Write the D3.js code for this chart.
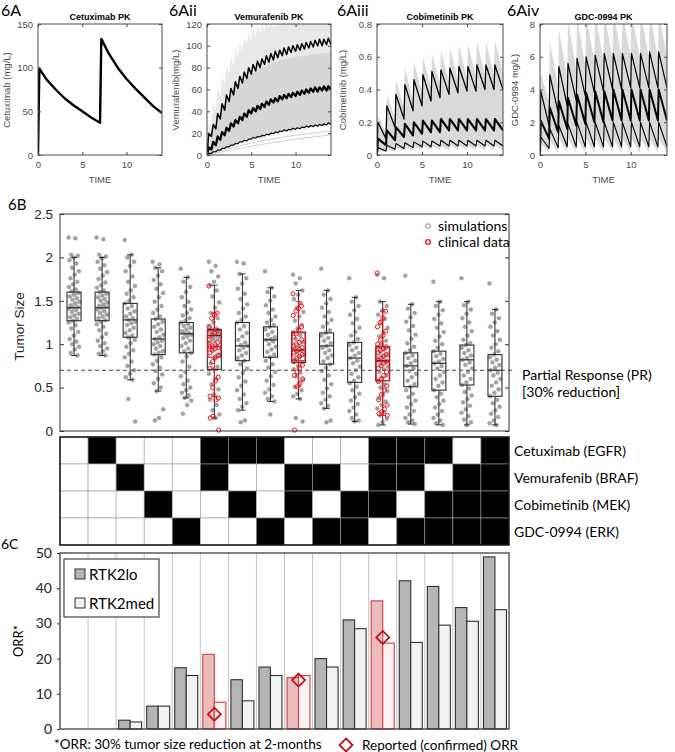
<!DOCTYPE html>
<html><head><meta charset="utf-8">
<script src="https://cdn.jsdelivr.net/npm/d3@7"></script>
<style>body{margin:0;background:#fff}svg{display:block}</style>
</head><body>
<svg id="chart" width="675" height="752"></svg>
<script>
// ================= DATA =================
// --- 6A PK panels
const cetuxT = [0, 0.15, 1, 2, 3, 4, 5, 6, 7, 7.15, 8, 9, 10, 11, 12, 13, 14];
const cetuxV = [0, 99, 86, 75, 65, 57, 50, 43, 37, 133, 116, 100, 87, 76, 66, 56, 48];

const vemDoseT = [0,0.5,1,1.5,2,2.5,3,3.5,4,4.5,5,5.5,6,6.5,7,7.5,8,8.5,9,9.5,10,10.5,11,11.5,12,12.5,13,13.5];
const vemHiTr = [0,17,24,33,41,49,55,61,66,70,74,77,80,83,85,87,89,91,92,94,95,96,97,98,99,100,100,101,101];
const vemHiPk = [20,28,38,47,55,61,67,72,76,80,83,86,88,91,93,95,96,98,99,100,101,102,103,104,105,106,106,107];
const vemMidTr = [0,5,9,14,18,22,26,29,32,35,38,40,42,44,46,48,49,51,52,53,54,55,56,57,58,58,59,59,60];
const vemMidPk = [7,12,17,21,25,29,32,35,38,41,43,45,47,49,51,52,54,55,56,57,58,59,60,61,62,62,63,63];
const vemLoTr = [0,1.5,3,4.5,6,7.5,9,10.5,12,13,14.5,15.5,16.5,17.5,18.5,19.5,20.5,21.5,22,23,23.5,24,25,25.5,26,26.5,27,27.5,28];
const vemLoPk = [1.5,3,4.5,6,7.5,9,10.5,12,13.5,14.5,16,17,18,19,20,21,22,23,23.5,24.5,25,25.5,26.5,27,27.5,28,28.5,29.5];
const vemGreyHiTr = [0,25,40,54,65,74,82,89,95,100,104,108,111,113,115,116,117,118,119,120,121,122,122,123,123,124,124,124,124];
const vemGreyHiPk = [32,48,62,73,82,90,97,103,108,112,116,119,122,124,125,126,127,128,129,130,130,131,131,132,132,132,133,133];
const dayT = [0,1,2,3,4,5,6,7,8,9,10,11,12,13,14];
const vemGreyDenseHi = [0,30,48,60,68,74,79,83,86,88,90,91,92,93,94];
const vemGreyLo = [0,3.5,7,10,13,15.5,17.5,19.5,21,22.5,24,25,26,27,28];
const vemGrey1 = [0,2.5,5,7,9,11,12.5,14,15.5,17,18,19,20,21,22];
const vemGrey2 = [0,1.8,3.5,5,6.5,8,9.5,10.8,12,13.3,14.5,15.5,16.5,17.5,18.5];

const dailyDoseT = [0,1,2,3,4,5,6,7,8,9,10,11,12,13];
const cobiHiPk = [0.20,0.30,0.37,0.43,0.46,0.49,0.51,0.52,0.53,0.54,0.54,0.55,0.55,0.55];
const cobiHiTr = [0,0.10,0.17,0.22,0.27,0.30,0.33,0.35,0.37,0.38,0.39,0.39,0.40,0.40,0.40];
const cobiMidPk = [0.10,0.15,0.17,0.19,0.20,0.21,0.21,0.22,0.22,0.22,0.22,0.22,0.22,0.22];
const cobiMidTr = [0,0.06,0.09,0.11,0.12,0.13,0.14,0.14,0.15,0.15,0.15,0.15,0.15,0.15,0.15];
const cobiLoPk = [0.045,0.06,0.07,0.075,0.08,0.085,0.085,0.09,0.09,0.09,0.09,0.09,0.09,0.09];
const cobiLoTr = [0,0.025,0.035,0.04,0.045,0.05,0.05,0.055,0.055,0.055,0.055,0.055,0.055,0.055,0.055];
const cobiGreyHiPk = [0.24,0.37,0.46,0.53,0.57,0.60,0.62,0.64,0.66,0.67,0.68,0.69,0.69,0.70];
const cobiGreyHiTr = [0,0.13,0.22,0.29,0.34,0.38,0.41,0.43,0.45,0.46,0.47,0.48,0.49,0.49,0.50];
const cobiGreyLoPk = [0.03,0.04,0.045,0.05,0.05,0.055,0.055,0.055,0.06,0.06,0.06,0.06,0.06,0.06];
const cobiGreyLoTr = [0,0.015,0.02,0.025,0.025,0.03,0.03,0.03,0.03,0.03,0.03,0.03,0.03,0.03,0.03];

const gdcHiPk = [3.9,4.9,5.4,5.6,5.9,6.0,6.1,6.2,6.2,6.2,6.2,6.2,6.3,6.3];
const gdcHiTr = [0,1.8,2.6,3.0,3.3,3.6,3.8,3.9,4.0,4.0,4.1,4.1,4.1,4.1,4.1];
const gdcMidPk = [2.1,2.9,3.3,3.5,3.7,3.8,3.9,3.9,4.0,4.0,4.0,4.0,4.0,4.0];
const gdcMidTr = [0,1.0,1.4,1.6,1.8,1.9,2.0,2.0,2.1,2.1,2.1,2.1,2.1,2.1,2.1];
const gdcLoPk = [1.1,1.6,1.8,1.9,2.0,2.0,2.0,2.0,2.0,2.0,2.0,2.0,2.0,2.0];
const gdcLoTr = [0,0.4,0.45,0.5,0.5,0.5,0.5,0.5,0.5,0.5,0.5,0.5,0.5,0.5,0.5];
const gdcGreyHiPk = [5.0,6.9,7.7,8.2,8.4,8.5,8.6,8.6,8.7,8.7,8.7,8.7,8.7,8.7];
const gdcGreyHiTr = [0,3.3,4.2,4.8,5.2,5.5,5.7,5.8,5.9,6.0,6.0,6.0,6.0,6.0,6.0];
const gdcGreyLoPk = [0.7,0.9,1.0,1.0,1.0,1.0,1.0,1.0,1.0,1.0,1.0,1.0,1.0,1.0];
const gdcGreyLoTr = [0,0.1,0.1,0.15,0.15,0.15,0.15,0.15,0.15,0.15,0.15,0.15,0.15,0.15,0.15];

// --- 6B / heatmap / 6C categories (all drug combinations)
const combos = ["none","C","V","M","E","CV","CM","CE","VM","VE","ME","CVM","CVE","CME","VME","CVME"];
const drugKeys = ["C","V","M","E"];
const drugNames = ["Cetuximab (EGFR)","Vemurafenib (BRAF)","Cobimetinib (MEK)","GDC-0994 (ERK)"];
const clinicalCombos = ["CV","VM","CVM"];

// 6B simulated boxplot stats
const simQ1  = [1.27,1.27,1.08,0.88,0.90,0.71,0.81,0.85,0.79,0.77,0.56,0.58,0.51,0.47,0.53,0.40];
const simMed = [1.42,1.42,1.28,1.06,1.12,1.10,0.98,1.05,0.93,0.98,0.84,0.81,0.75,0.78,0.82,0.70];
const simQ3  = [1.60,1.60,1.47,1.29,1.25,1.17,1.25,1.20,1.14,1.13,1.02,0.97,0.90,0.92,0.99,0.88];
const simWLo = [0.87,0.87,0.59,0.46,0.38,0.15,0.24,0.34,0.37,0.26,0.11,0.07,0.08,0.07,0.07,0.07];
const simWHi = [2.00,2.00,2.03,1.88,1.77,1.68,1.81,1.65,1.62,1.62,1.54,1.49,1.46,1.49,1.49,1.40];
// 6B simulated tumor sizes (per combination)
const simPoints = [
 [2.23,2.22,2.03,2.02,2.00,1.97,1.93,1.88,1.84,1.80,1.76,1.72,1.69,1.66,1.63,1.61,1.59,1.57,1.55,1.53,1.51,1.49,1.47,1.45,1.43,1.42,1.41,1.39,1.37,1.35,1.33,1.31,1.29,1.27,1.25,1.22,1.18,1.14,1.10,1.06,1.03,1.00,0.97,0.94,0.90,0.87],
 [2.23,2.21,2.03,2.01,1.99,1.95,1.91,1.87,1.83,1.79,1.75,1.71,1.68,1.65,1.62,1.60,1.58,1.56,1.54,1.52,1.50,1.48,1.46,1.44,1.43,1.42,1.40,1.38,1.36,1.34,1.32,1.30,1.28,1.26,1.23,1.20,1.16,1.12,1.08,1.04,1.01,0.98,0.95,0.92,0.89,0.87],
 [2.20,2.03,2.00,1.95,1.90,1.84,1.78,1.72,1.67,1.62,1.58,1.54,1.50,1.47,1.44,1.41,1.38,1.35,1.32,1.30,1.28,1.26,1.24,1.22,1.19,1.16,1.13,1.10,1.08,1.05,1.01,0.97,0.93,0.89,0.85,0.80,0.75,0.70,0.66,0.62,0.59,0.37,0.11],
 [1.95,1.92,1.88,1.84,1.79,1.74,1.69,1.64,1.59,1.54,1.49,1.44,1.40,1.36,1.32,1.29,1.26,1.23,1.20,1.17,1.14,1.11,1.08,1.06,1.04,1.02,1.00,0.98,0.95,0.92,0.90,0.88,0.85,0.81,0.77,0.73,0.69,0.65,0.60,0.55,0.50,0.46,0.25,0.15,0.12],
 [1.87,1.77,1.72,1.66,1.60,1.54,1.49,1.44,1.40,1.36,1.33,1.30,1.27,1.25,1.23,1.21,1.19,1.17,1.15,1.13,1.12,1.11,1.09,1.07,1.04,1.01,0.98,0.95,0.92,0.90,0.86,0.80,0.74,0.68,0.63,0.58,0.54,0.50,0.47,0.44,0.41,0.38,0.35,0.30,0.20],
 [1.95,1.90,1.84,1.78,1.72,1.68,1.62,1.55,1.48,1.42,1.36,1.30,1.25,1.21,1.18,1.17,1.16,1.15,1.14,1.13,1.12,1.11,1.10,1.09,1.07,1.05,1.02,0.98,0.93,0.88,0.83,0.78,0.74,0.71,0.66,0.60,0.54,0.48,0.42,0.36,0.30,0.24,0.19,0.15],
 [1.95,1.93,1.81,1.76,1.70,1.64,1.58,1.52,1.46,1.41,1.36,1.32,1.28,1.25,1.21,1.17,1.13,1.09,1.05,1.02,0.99,0.98,0.96,0.93,0.90,0.87,0.84,0.81,0.77,0.72,0.67,0.62,0.57,0.52,0.47,0.42,0.37,0.32,0.28,0.24,0.12,0.10],
 [1.84,1.65,1.60,1.55,1.50,1.45,1.40,1.36,1.32,1.28,1.25,1.22,1.20,1.17,1.14,1.11,1.08,1.06,1.05,1.03,1.00,0.97,0.94,0.91,0.88,0.85,0.81,0.77,0.73,0.68,0.63,0.58,0.53,0.48,0.44,0.40,0.37,0.34,0.19],
 [1.80,1.76,1.70,1.62,1.57,1.52,1.47,1.42,1.37,1.32,1.27,1.22,1.18,1.14,1.10,1.06,1.02,0.98,0.95,0.93,0.91,0.88,0.85,0.82,0.79,0.75,0.71,0.67,0.63,0.59,0.55,0.51,0.47,0.43,0.40,0.37,0.15,0.11],
 [1.87,1.62,1.57,1.52,1.47,1.42,1.37,1.32,1.28,1.24,1.20,1.16,1.13,1.10,1.07,1.04,1.01,0.98,0.96,0.93,0.90,0.87,0.84,0.80,0.77,0.73,0.69,0.64,0.59,0.54,0.49,0.44,0.40,0.36,0.32,0.29,0.26,0.12,0.10],
 [1.76,1.54,1.49,1.44,1.39,1.34,1.29,1.24,1.19,1.14,1.10,1.06,1.02,0.99,0.96,0.93,0.90,0.87,0.84,0.81,0.78,0.74,0.70,0.66,0.62,0.58,0.55,0.51,0.47,0.43,0.39,0.35,0.31,0.27,0.23,0.19,0.15,0.12,0.11],
 [1.80,1.76,1.49,1.44,1.39,1.34,1.29,1.24,1.19,1.14,1.09,1.04,1.00,0.97,0.94,0.91,0.88,0.85,0.82,0.80,0.77,0.74,0.71,0.68,0.64,0.61,0.58,0.54,0.50,0.46,0.42,0.38,0.34,0.30,0.26,0.22,0.18,0.14,0.10,0.07],
 [1.79,1.46,1.41,1.36,1.31,1.26,1.21,1.16,1.11,1.06,1.01,0.97,0.93,0.90,0.87,0.84,0.81,0.78,0.75,0.72,0.69,0.66,0.62,0.58,0.54,0.51,0.47,0.43,0.39,0.35,0.31,0.27,0.23,0.19,0.15,0.12,0.10,0.08],
 [1.72,1.49,1.44,1.39,1.34,1.29,1.24,1.19,1.14,1.09,1.04,1.00,0.96,0.92,0.89,0.86,0.83,0.80,0.78,0.75,0.72,0.68,0.64,0.60,0.56,0.52,0.47,0.43,0.39,0.35,0.31,0.27,0.23,0.19,0.15,0.12,0.09,0.07],
 [1.76,1.49,1.45,1.40,1.35,1.30,1.25,1.20,1.15,1.10,1.05,1.01,0.99,0.96,0.93,0.90,0.87,0.84,0.82,0.79,0.76,0.72,0.68,0.64,0.60,0.56,0.53,0.49,0.45,0.41,0.37,0.33,0.29,0.25,0.21,0.17,0.13,0.10,0.07],
 [1.70,1.40,1.35,1.30,1.25,1.20,1.15,1.10,1.05,1.00,0.96,0.92,0.88,0.85,0.82,0.79,0.76,0.73,0.70,0.67,0.64,0.60,0.56,0.52,0.48,0.44,0.40,0.36,0.32,0.28,0.24,0.20,0.16,0.12,0.09,0.07]
];
// clinical data (combinations CV, VM, CVM)
const clinQ1  = [0.85,0.81,0.58];
const clinMed = [0.97,0.93,0.80];
const clinQ3  = [1.16,1.13,0.97];
const clinWLo = [0.40,0.51,0.18];
const clinWHi = [1.36,1.49,1.38];
const clinPoints = [
 [1.67,1.36,1.34,1.30,1.20,1.16,1.13,1.10,1.05,1.02,1.00,0.98,0.97,0.96,0.95,0.93,0.90,0.87,0.85,0.80,0.72,0.62,0.58,0.50,0.40,0.38,0.36,0.17,0.15,0.01],
 [1.58,1.44,1.41,1.38,1.33,1.20,1.16,1.12,1.08,1.05,1.02,1.00,0.98,0.96,0.94,0.92,0.90,0.88,0.86,0.84,0.80,0.76,0.72,0.68,0.64,0.60,0.55,0.51,0.01],
 [1.82,1.38,1.30,1.25,1.20,1.15,1.10,1.05,1.00,0.97,0.95,0.93,0.90,0.88,0.86,0.84,0.82,0.80,0.78,0.75,0.72,0.68,0.64,0.60,0.57,0.52,0.47,0.42,0.36,0.30,0.25,0.22,0.20,0.18]
];
const prThreshold = 0.7;
const tumorTicks = [0,0.5,1,1.5,2,2.5];

// 6C ORR (%)
const orrLo  = [0,0,2.5,6.5,17.4,21.2,14.0,17.6,14.6,20.0,31.0,36.4,42.1,40.5,34.5,48.9];
const orrMed = [0,0,2.0,6.5,15.2,7.6,8.0,15.2,15.2,17.6,28.5,24.4,24.6,29.5,30.6,33.9];
const reportedORR = [4.2,13.9,26.0];
const orrTicks = [0,10,20,30,40,50];

// ================= DRAWING =================
const svg = d3.select("#chart");
const AX = "'Liberation Sans', Arial, sans-serif";
const CAL = "Lato, 'Open Sans', sans-serif";

function saw(doseT, off, tr, pk, end) {
  const pts = [];
  doseT.forEach((t, i) => { pts.push([t, tr[i]]); pts.push([t + off, pk[i]]); });
  pts.push([end, tr[doseT.length]]);
  return pts;
}
function band(doseT, off, loTr, loPk, hiTr, hiPk, end) {
  const lo = saw(doseT, off, loTr, loPk, end), hi = saw(doseT, off, hiTr, hiPk, end);
  return lo.map((p, i) => ({t: p[0], lo: p[1], hi: hi[i][1]}));
}

const panels = [
  {lab: "6A", labX: 1, title: "Cetuximab PK", ylab: "Cetuximab (mg/L)", ylabX: 6, x0: 38, x1: 162, ymax: 150, ticks: [0,50,100,150]},
  {lab: "6Aii", labX: 169, title: "Vemurafenib PK", ylab: "Vemurafenib(mg/L)", ylabX: 175, x0: 207, x1: 331, ymax: 120, ticks: [0,20,40,60,80,100,120]},
  {lab: "6Aiii", labX: 337, title: "Cobimetinib PK", ylab: "Cobimetinib (mg/L)", ylabX: 342, x0: 377, x1: 503, ymax: 0.8, ticks: [0,0.2,0.4,0.6,0.8]},
  {lab: "6Aiv", labX: 507, title: "GDC-0994 PK", ylab: "GDC-0994 mg/L)", ylabX: 514, x0: 540, x1: 667, ymax: 8, ticks: [0,2,4,6,8]}
];
const pTop = 24, pBot = 155;

panels.forEach((p, pi) => {
  const x = d3.scaleLinear([0, 14], [p.x0, p.x1]);
  const y = d3.scaleLinear([0, p.ymax], [pBot, pTop]);
  const g = svg.append("g");
  const cid = "clip" + pi;
  svg.append("clipPath").attr("id", cid).append("rect")
    .attr("x", p.x0).attr("y", pTop).attr("width", p.x1 - p.x0).attr("height", pBot - pTop);
  const pg = g.append("g").attr("clip-path", `url(#${cid})`);
  const line = d3.line().x(d => x(d[0])).y(d => y(d[1]));
  const area = d3.area().x(d => x(d.t)).y0(d => y(d.lo)).y1(d => y(d.hi));
  const blk = (pts, w) => pg.append("path").attr("d", line(pts)).attr("fill", "none")
      .attr("stroke", "#000").attr("stroke-width", w).attr("stroke-linejoin", "round");
  if (pi === 0) {
    blk(cetuxT.map((t, i) => [t, cetuxV[i]]), 2.4);
  } else if (pi === 1) {
    const hiEnv = saw(vemDoseT, 0.2, vemGreyHiTr, vemGreyHiPk, 14);
    pg.append("path").attr("d", d3.area().x(d => x(d[0])).y0(y(0)).y1(d => y(d[1]))(hiEnv)).attr("fill", "#e8e8e8");
    const dense = dayT.map((t, i) => ({t, lo: vemGreyLo[i], hi: vemGreyDenseHi[i]}));
    pg.append("path").attr("d", area.curve(d3.curveMonotoneX)(dense)).attr("fill", "#d6d6d6");
    pg.append("path").attr("d", d3.area().curve(d3.curveMonotoneX).x(d => x(d.t)).y0(y(0)).y1(d => y(d.lo))(dense)).attr("fill", "#fff");
    [vemGrey1, vemGrey2].forEach(arr => pg.append("path")
      .attr("d", d3.line().curve(d3.curveMonotoneX).x((d, i) => x(dayT[i])).y(d => y(d))(arr))
      .attr("fill", "none").attr("stroke", "#c8c8c8").attr("stroke-width", 0.9));
    blk(saw(vemDoseT, 0.2, vemLoTr, vemLoPk, 14), 1.2);
    blk(saw(vemDoseT, 0.2, vemMidTr, vemMidPk, 14), 2.2);
    blk(saw(vemDoseT, 0.2, vemHiTr, vemHiPk, 14), 1.5);
  } else if (pi === 2) {
    pg.append("path").attr("d", area.curve(d3.curveLinear)(band(dailyDoseT, 0.1, cobiGreyLoTr, cobiGreyLoPk, cobiGreyHiTr, cobiGreyHiPk, 14))).attr("fill", "#d9d9d9");
    blk(saw(dailyDoseT, 0.1, cobiLoTr, cobiLoPk, 14), 1.1);
    blk(saw(dailyDoseT, 0.1, cobiMidTr, cobiMidPk, 14), 2.1);
    blk(saw(dailyDoseT, 0.1, cobiHiTr, cobiHiPk, 14), 1.3);
  } else {
    pg.append("path").attr("d", area.curve(d3.curveLinear)(band(dailyDoseT, 0.08, gdcGreyLoTr, gdcGreyLoPk, gdcGreyHiTr, gdcGreyHiPk, 14))).attr("fill", "#d9d9d9");
    blk(saw(dailyDoseT, 0.08, gdcLoTr, gdcLoPk, 14), 1.1);
    blk(saw(dailyDoseT, 0.08, gdcMidTr, gdcMidPk, 14), 2.0);
    blk(saw(dailyDoseT, 0.08, gdcHiTr, gdcHiPk, 14), 1.2);
  }
  // axes (MATLAB style, inward ticks, box)
  const col = "#4a4a4a";
  const ax = (gen, tr) => {
    const a = g.append("g").attr("transform", tr).call(gen);
    a.select(".domain").remove();
    a.selectAll("line").attr("stroke", col);
    a.selectAll("text").attr("fill", col).style("font-family", AX).style("font-size", "9.5px");
    return a;
  };
  ax(d3.axisLeft(y).tickValues(p.ticks).tickSize(-3).tickPadding(5).tickFormat(d => d), `translate(${p.x0},0)`);
  ax(d3.axisRight(y).tickValues(p.ticks).tickSize(-3).tickFormat(""), `translate(${p.x1},0)`);
  ax(d3.axisBottom(x).tickValues([0,5,10]).tickSize(-3).tickPadding(6), `translate(0,${pBot})`);
  ax(d3.axisTop(x).tickValues([0,5,10]).tickSize(-3).tickFormat(""), `translate(0,${pTop})`);
  g.append("rect").attr("x", p.x0).attr("y", pTop).attr("width", p.x1 - p.x0).attr("height", pBot - pTop)
    .attr("fill", "none").attr("stroke", col).attr("stroke-width", 1);
  g.append("text").attr("x", (p.x0 + p.x1) / 2).attr("y", 20).attr("text-anchor", "middle")
    .style("font-family", AX).style("font-size", "9px").style("font-weight", "bold").text(p.title);
  g.append("text").attr("x", (p.x0 + p.x1) / 2).attr("y", 183).attr("text-anchor", "middle").attr("fill", col)
    .style("font-family", AX).style("font-size", "9.5px").text("TIME");
  g.append("text").attr("transform", `translate(${p.ylabX},90) rotate(-90)`).attr("text-anchor", "middle")
    .attr("dominant-baseline", "central").attr("fill", col)
    .style("font-family", AX).style("font-size", "9.5px").text(p.ylab);
  g.append("text").attr("x", p.labX).attr("y", 16).style("font-family", CAL).style("font-size", "16px").text(p.lab);
});

// ---------- 6B ----------
const bL = 60, bR = 509, bT = 214, bB = 431;
const xb = d3.scaleBand(combos, [bL, bR]);
const yb = d3.scaleLinear([0, 2.5], [bB, bT]);
const gB = svg.append("g");
gB.append("text").attr("x", 8).attr("y", 210).style("font-family", CAL).style("font-size", "15px").text("6B");
const jit = (i, k) => ((i * k) % 1 - 0.5) * 11;
combos.forEach((c, ci) => {
  const cx = xb(c) + xb.bandwidth() / 2;
  gB.append("g").selectAll("circle").data(simPoints[ci]).join("circle")
    .attr("cx", (d, i) => cx + jit(i, 0.6180339)).attr("cy", d => yb(d)).attr("r", 2.0)
    .attr("fill", "#a3a3a3").attr("stroke", "#939393").attr("stroke-width", 0.4);
});
function drawBox(g, cx, q1, med, q3, wlo, whi, color, w) {
  g.append("line").attr("x1", cx).attr("x2", cx).attr("y1", yb(q3)).attr("y2", yb(whi)).attr("stroke", color);
  g.append("line").attr("x1", cx).attr("x2", cx).attr("y1", yb(q1)).attr("y2", yb(wlo)).attr("stroke", color);
  [whi, wlo].forEach(v => g.append("line").attr("x1", cx - 3).attr("x2", cx + 3).attr("y1", yb(v)).attr("y2", yb(v)).attr("stroke", color));
  g.append("rect").attr("x", cx - w / 2).attr("y", yb(q3)).attr("width", w).attr("height", yb(q1) - yb(q3))
    .attr("fill", "none").attr("stroke", color).attr("stroke-width", 1.1);
  g.append("line").attr("x1", cx - w / 2).attr("x2", cx + w / 2).attr("y1", yb(med)).attr("y2", yb(med)).attr("stroke", color).attr("stroke-width", 1.2);
}
combos.forEach((c, ci) => {
  const cx = xb(c) + xb.bandwidth() / 2;
  drawBox(gB, cx, simQ1[ci], simMed[ci], simQ3[ci], simWLo[ci], simWHi[ci], "#2b2b2b", 14);
});
clinicalCombos.forEach((c, k) => {
  const cx = xb(c) + xb.bandwidth() / 2;
  gB.append("g").selectAll("circle").data(clinPoints[k]).join("circle")
    .attr("cx", (d, i) => cx + jit(i, 0.7548776)).attr("cy", d => yb(d)).attr("r", 2.1)
    .attr("fill", "none").attr("stroke", "#e8141c").attr("stroke-width", 1);
  drawBox(gB, cx, clinQ1[k], clinMed[k], clinQ3[k], clinWLo[k], clinWHi[k], "#e8141c", 13);
});
gB.append("line").attr("x1", bL).attr("x2", bR + 6).attr("y1", yb(prThreshold)).attr("y2", yb(prThreshold))
  .attr("stroke", "#444").attr("stroke-width", 1.1).attr("stroke-dasharray", "4,3");
const ayB = gB.append("g").attr("transform", `translate(${bL},0)`)
  .call(d3.axisLeft(yb).tickValues(tumorTicks).tickSize(-4).tickPadding(7).tickFormat(d => d));
ayB.select(".domain").remove();
ayB.selectAll("line").attr("stroke", "#333");
ayB.selectAll("text").attr("fill", "#222").style("font-family", AX).style("font-size", "13.5px");
const ayB2 = gB.append("g").attr("transform", `translate(${bR},0)`)
  .call(d3.axisRight(yb).tickValues(tumorTicks).tickSize(-4).tickFormat(""));
ayB2.select(".domain").remove();
ayB2.selectAll("line").attr("stroke", "#333");
gB.append("rect").attr("x", bL).attr("y", bT).attr("width", bR - bL).attr("height", bB - bT)
  .attr("fill", "none").attr("stroke", "#333").attr("stroke-width", 1);
gB.append("text").attr("transform", `translate(19,${(bT + bB) / 2 + 4}) rotate(-90)`).attr("text-anchor", "middle")
  .attr("dominant-baseline", "central").attr("fill", "#222").style("font-family", AX).style("font-size", "13.5px").text("Tumor Size");
gB.append("circle").attr("cx", 428).attr("cy", 226).attr("r", 2.3).attr("fill", "none").attr("stroke", "#888").attr("stroke-width", 1);
gB.append("text").attr("x", 438).attr("y", 231).style("font-family", CAL).style("font-size", "14px").text("simulations");
gB.append("circle").attr("cx", 428).attr("cy", 242).attr("r", 2.3).attr("fill", "none").attr("stroke", "#e8141c").attr("stroke-width", 1.3);
gB.append("text").attr("x", 438).attr("y", 247).style("font-family", CAL).style("font-size", "14px").text("clinical data");
gB.append("text").attr("x", 522).attr("y", 380).style("font-family", CAL).style("font-size", "14px").text("Partial Response (PR)");
gB.append("text").attr("x", 522).attr("y", 397).style("font-family", CAL).style("font-size", "14px").text("[30% reduction]");

// ---------- heatmap ----------
const hT = 437, hB = 545;
const yh = d3.scaleBand(drugKeys, [hT, hB]);
const gH = svg.append("g");
drugKeys.forEach((dk, di) => {
  combos.forEach(c => {
    gH.append("rect").attr("x", xb(c)).attr("y", yh(dk)).attr("width", xb.bandwidth()).attr("height", yh.bandwidth())
      .attr("fill", c.includes(dk) ? "#000" : "#fff").attr("stroke", "#9a9a9a").attr("stroke-width", 0.6);
  });
  gH.append("text").attr("x", bR + 5).attr("y", yh(dk) + yh.bandwidth() / 2).attr("dominant-baseline", "central")
    .style("font-family", CAL).style("font-size", "14px").text(drugNames[di]);
});
gH.append("rect").attr("x", bL).attr("y", hT).attr("width", bR - bL).attr("height", hB - hT)
  .attr("fill", "none").attr("stroke", "#111").attr("stroke-width", 1.5);

// ---------- 6C ----------
const cT = 553, cB = 729;
const yc = d3.scaleLinear([0, 50], [cB, cT]);
const gC = svg.append("g");
gC.append("text").attr("x", 1).attr("y", 549).style("font-family", CAL).style("font-size", "14px").text("6C");
combos.forEach((c, i) => {
  if (i > 0) gC.append("line").attr("x1", xb(c)).attr("x2", xb(c)).attr("y1", cT).attr("y2", cB)
    .attr("stroke", "#c4c4c4").attr("stroke-width", 1);
});
const barW = 11.5;
combos.forEach((c, i) => {
  const clin = clinicalCombos.includes(c);
  const x0 = xb(c) + 2.5;
  [[orrLo[i], clin ? "#edbcbc" : "#b5b5b5"], [orrMed[i], clin ? "#fdf2f2" : "#f2f2f2"]].forEach(([v, fill], k) => {
    if (v <= 0) return;
    gC.append("rect").attr("x", x0 + k * barW).attr("y", yc(v)).attr("width", barW).attr("height", yc(0) - yc(v))
      .attr("fill", fill).attr("stroke", clin ? "#d23a3a" : "#2f2f2f").attr("stroke-width", 1.1);
  });
});
const diamond = (g, cx, cy, r) => g.append("path")
  .attr("d", `M${cx},${cy - r}L${cx + r},${cy}L${cx},${cy + r}L${cx - r},${cy}Z`)
  .attr("fill", "none").attr("stroke", "#c0141c").attr("stroke-width", 1.8);
clinicalCombos.forEach((c, k) => diamond(gC, xb(c) + xb.bandwidth() / 2, yc(reportedORR[k]), 6.5));
const ayC = gC.append("g").attr("transform", `translate(${bL},0)`)
  .call(d3.axisLeft(yc).tickValues(orrTicks).tickSize(3).tickPadding(5));
ayC.select(".domain").remove();
ayC.selectAll("line").attr("stroke", "#333");
ayC.selectAll("text").attr("fill", "#222").style("font-family", CAL).style("font-size", "14px");
gC.append("rect").attr("x", bL).attr("y", cT).attr("width", bR - bL).attr("height", cB - cT)
  .attr("fill", "none").attr("stroke", "#333").attr("stroke-width", 1.2);
gC.append("text").attr("transform", `translate(18,${(cT + cB) / 2}) rotate(-90)`).attr("text-anchor", "middle")
  .attr("dominant-baseline", "central").style("font-family", CAL).style("font-size", "13px").text("ORR*");
gC.append("rect").attr("x", 64).attr("y", 559).attr("width", 95).attr("height", 58).attr("fill", "#fff").attr("stroke", "#333").attr("stroke-width", 1.1);
gC.append("rect").attr("x", 75).attr("y", 569).attr("width", 10).attr("height", 10).attr("fill", "#b5b5b5").attr("stroke", "#2f2f2f");
gC.append("text").attr("x", 89).attr("y", 580).style("font-family", CAL).style("font-size", "15px").text("RTK2lo");
gC.append("rect").attr("x", 75).attr("y", 598).attr("width", 10).attr("height", 10).attr("fill", "#f2f2f2").attr("stroke", "#2f2f2f");
gC.append("text").attr("x", 89).attr("y", 609).style("font-family", CAL).style("font-size", "15px").text("RTK2med");
gC.append("text").attr("x", 54).attr("y", 749).style("font-family", CAL).style("font-size", "13.5px").text("*ORR: 30% tumor size reduction at 2-months");
diamond(gC, 346, 745, 6.5);
gC.append("text").attr("x", 362).attr("y", 750).style("font-family", CAL).style("font-size", "13.5px").text("Reported (confirmed) ORR");
</script>
</body></html>
